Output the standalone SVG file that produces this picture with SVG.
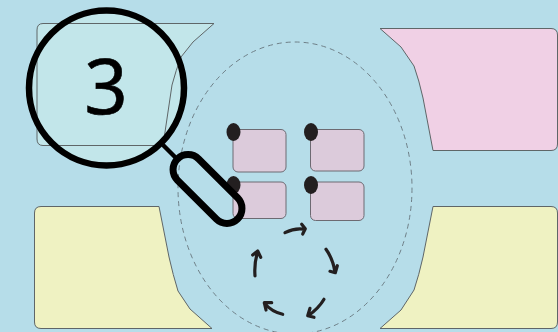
<svg xmlns="http://www.w3.org/2000/svg" width="558" height="332" viewBox="0 0 558 332">
<style>
.shape{stroke:#5f6668;stroke-width:1;stroke-linejoin:round}
.yellow{fill:#eff2c2}
.tile{fill:#dccbdb;stroke:#6d6a72;stroke-width:1}
.dot{fill:#231f20}
.arrow{fill:none;stroke:#231f20;stroke-width:3.200;stroke-linecap:round;stroke-linejoin:round}
.ring{fill:none;stroke:#000}
</style>
<rect id="background" width="558" height="332" fill="#b6dde9"/>
<ellipse id="dashed-ellipse" cx="295" cy="188" rx="117" ry="146" fill="none" stroke="#6f8088" stroke-width="1" stroke-dasharray="5 4"/>
<g id="panel-top-right"><path class="shape" fill="#f0d0e5" d="M380 28.500H551Q557.500 28.500 557.500 35V144Q557.500 150.500 551 150.500H433L423 98Q419 80 414 66L401 47Z"/></g>
<g id="panel-bottom-right"><path class="shape yellow" d="M433 206.500H551Q557.500 206.500 557.500 213V322Q557.500 328.500 551 328.500H380L401 310L414 290Q419 275 423 257Z"/></g>
<g id="panel-bottom-left"><path class="shape yellow" d="M159 206.500H41Q34.500 206.500 34.500 213V322Q34.500 328.500 41 328.500H212L190 309L178 291Q173 275 169 257Z"/></g>
<g id="tiles">
<g id="tile-1"><rect class="tile" x="233" y="129.500" width="53" height="42.500" rx="5"/><ellipse class="dot" cx="233.500" cy="132" rx="7" ry="9"/></g>
<g id="tile-2"><rect class="tile" x="310.500" y="129.500" width="53.500" height="41.500" rx="5"/><ellipse class="dot" cx="311" cy="132" rx="7" ry="9"/></g>
<g id="tile-3"><rect class="tile" x="233" y="182" width="53" height="36.500" rx="5"/><ellipse class="dot" cx="233.500" cy="185" rx="7" ry="9"/></g>
<g id="tile-4"><rect class="tile" x="310.500" y="182" width="53.500" height="38.500" rx="5"/><ellipse class="dot" cx="311" cy="185" rx="7" ry="9"/></g>
</g>
<g id="connectors">
<path class="arrow" d="M285 232.700Q295 227.500 305 229.300M301.700 224.300L305.300 228.700L302.700 234"/>
<path class="arrow" d="M326 249.300Q333 259 335 272.300M330 271.300L335.300 272.700L337.300 265.700"/>
<path class="arrow" d="M324 299.300Q319 308 308.300 315.700M314 317.300L307.700 315.700L310 308.300"/>
<path class="arrow" d="M282.700 314.300Q272 312 264.300 303.300M271.700 302.700L264.300 302.700L266 310"/>
<path class="arrow" d="M255 276Q254 263 257.700 251.700M252.700 255L257.700 251L260.700 257.300"/>
</g>
<g id="magnifier">
<circle cx="106.500" cy="88" r="77.500" fill="#c2e6ea"/>
<path class="shape" fill="#c2e6ea" d="M214 23.500H43Q37 23.500 37 30V139Q37 145.500 43 145.500H163L172 85Q176 70 181 57L193 42Z"/>
<circle class="ring" cx="106.500" cy="88" r="77.500" stroke-width="6.500"/>
<line x1="163" y1="145" x2="179" y2="161" stroke="#000" stroke-width="4.500"/>
<rect class="ring" x="165" y="174" width="85" height="30" rx="15" stroke-width="7" transform="rotate(45 207.500 189)"/>
<text x="106" y="114" text-anchor="middle" font-family="'Noto Sans',sans-serif" font-size="76" fill="#000" stroke="#000" stroke-width="0.600">3</text>
</g>
</svg>
